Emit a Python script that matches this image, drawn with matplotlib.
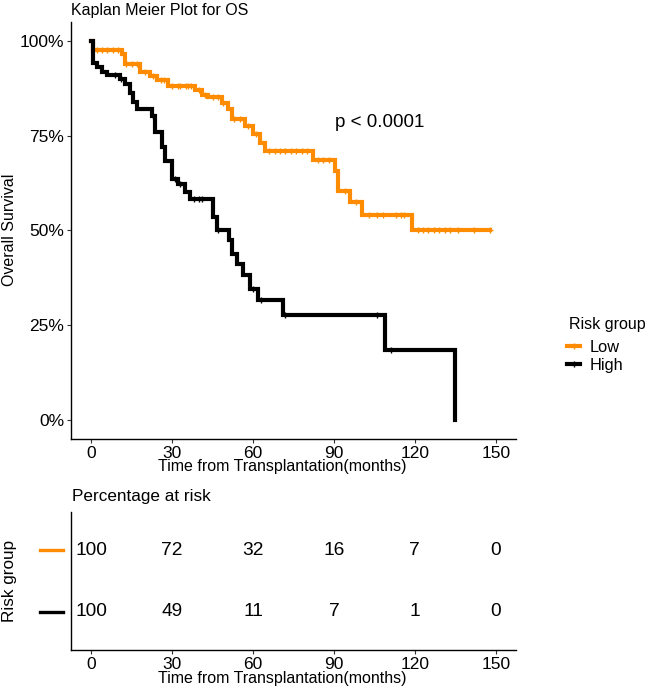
import numpy as np
import matplotlib
matplotlib.use("Agg")
import matplotlib.pyplot as plt
from matplotlib.lines import Line2D
import matplotlib.transforms as mtransforms

plt.rcParams['font.family'] = ['Liberation Sans', 'DejaVu Sans']

# Kaplan-Meier step points (time in months, survival fraction)
low_t = [0, 0.7, 11.4, 12.6, 18.1, 21.9, 24.3, 28.5, 38.5, 41.0, 43.3, 48.5, 50.7,
         52.2, 57.0, 60.0, 62.6, 64.4, 82.2, 90.4, 91.5, 95.9, 100.3, 119.1, 148.0]
low_s = [1.0, 0.976, 0.966, 0.939, 0.917, 0.908, 0.897, 0.882, 0.870, 0.858, 0.851, 0.836, 0.821,
         0.795, 0.776, 0.755, 0.732, 0.710, 0.687, 0.658, 0.605, 0.574, 0.542, 0.500, 0.500]
high_t = [0, 0.8, 2.1, 4.0, 5.8, 10.7, 12.6, 14.4, 15.6, 16.9, 22.5, 23.7, 26.2, 27.4,
          29.9, 32.3, 34.8, 36.7, 45.3, 46.6, 50.9, 52.1, 54.0, 56.4, 58.9, 62.0,
          71.2, 108.9, 134.8]
high_s = [1.0, 0.943, 0.930, 0.917, 0.911, 0.899, 0.886, 0.864, 0.838, 0.820, 0.803, 0.759, 0.719, 0.684,
          0.636, 0.623, 0.601, 0.582, 0.535, 0.500, 0.474, 0.439, 0.412, 0.382, 0.347, 0.316,
          0.276, 0.184, 0.0]

# censoring times
low_cens = [2, 4, 6, 8, 10, 13, 15, 17, 20, 23, 26, 27, 30, 32, 33, 35, 36, 37, 40, 42,
            45, 47, 49, 53, 55, 58, 61, 66, 68, 70, 72, 74, 76, 78, 80, 84, 86, 88, 94,
            98, 103, 106, 108, 113, 115, 116, 121, 123, 125, 127, 129, 131, 133, 136, 142, 148]
high_cens = [9, 11, 23, 31, 33, 38, 40, 41, 47, 60, 63, 72, 106, 111]

# percentage at risk table
table_times = [0, 30, 60, 90, 120, 150]
low_risk = [100, 72, 32, 16, 7, 0]
high_risk = [100, 49, 11, 7, 1, 0]

groups = ["Low", "High"]
colors = ["#FF8C00", "#000000"]


def surv_at(ts, ss, t):
    idx = np.searchsorted(np.array(ts), t, side='right') - 1
    return np.array(ss)[idx]


fig = plt.figure(figsize=(6.53, 6.92), dpi=100)
W, H = 653, 692
ax = fig.add_axes([71 / W, 1 - 439 / H, 445 / W, 417 / H])

for t, s, c, col in [(low_t, low_s, low_cens, colors[0]), (high_t, high_s, high_cens, colors[1])]:
    ax.step(t, s, where='post', color=col, lw=3.0, solid_joinstyle='miter')
    ax.plot(c, surv_at(t, s, c), ls='none', marker='+', ms=5, mew=1, color=col)

ax.set_xlim(-7.5, 157.5)
ax.set_ylim(-0.05, 1.05)
ax.set_xticks([0, 30, 60, 90, 120, 150])
ax.set_yticks([0, 0.25, 0.5, 0.75, 1.0])
ax.set_yticklabels(["0%", "25%", "50%", "75%", "100%"])
for sp in ["top", "right"]:
    ax.spines[sp].set_visible(False)
for sp in ["left", "bottom"]:
    ax.spines[sp].set_linewidth(1.0)
ax.tick_params(labelsize=12.5, length=3, width=0.8, pad=2, colors='#333333', labelcolor='black')
ax.text(107, 0.785, "p < 0.0001", fontsize=13.5, ha='center', va='center')

fig.text(71 / W, 1 - 10 / H, "Kaplan Meier Plot for OS", fontsize=11.5, ha='left', va='center')
fig.text(282 / W, 1 - 467 / H, "Time from Transplantation(months)", fontsize=11.5, ha='center', va='center')
fig.text(10 / W, 1 - 230 / H, "Overall Survival", fontsize=11.5, rotation=90, ha='center', va='center')

# legend
fig.text(569 / W, 1 - 324 / H, "Risk group", fontsize=11.5, ha='left', va='center')
handles = [Line2D([], [], color=colors[0], lw=3.0, marker='+', ms=5, mew=1),
           Line2D([], [], color=colors[1], lw=3.0, marker='+', ms=5, mew=1)]
leg = fig.legend(handles, groups, loc='upper left',
                 bbox_to_anchor=(567 / W, 1 - 340 / H), frameon=False, fontsize=11.8,
                 handlelength=0.8, handletextpad=0.6, labelspacing=0.18,
                 borderpad=0, borderaxespad=0)

# risk table
ax2 = fig.add_axes([71 / W, 1 - 650 / H, 445 / W, 138 / H])
ax2.set_xlim(-7.5, 157.5)
ax2.set_ylim(-0.613, 1.613)
for x, lv, hv in zip(table_times, low_risk, high_risk):
    ax2.text(x, 1, str(lv), fontsize=13.8, ha='center', va='center')
    ax2.text(x, 0, str(hv), fontsize=13.8, ha='center', va='center')
ax2.set_xticks(table_times)
ax2.set_yticks([])
for sp in ["top", "right"]:
    ax2.spines[sp].set_visible(False)
for sp in ["left", "bottom"]:
    ax2.spines[sp].set_linewidth(1.0)
ax2.tick_params(labelsize=12.5, length=3, width=0.8, pad=2, colors='#333333', labelcolor='black')
trans = mtransforms.blended_transform_factory(ax2.transAxes, ax2.transData)
for yv, col in [(1, colors[0]), (0, colors[1])]:
    ax2.plot([-0.0697, -0.018], [yv, yv], color=col, lw=2.4, transform=trans, clip_on=False)

fig.text(72 / W, 1 - 497 / H, "Percentage at risk", fontsize=12.3, ha='left', va='center')
fig.text(282 / W, 1 - 679 / H, "Time from Transplantation(months)", fontsize=11.5, ha='center', va='center')
fig.text(10 / W, 1 - 581 / H, "Risk group", fontsize=12.3, rotation=90, ha='center', va='center')

fig.savefig("out.png", dpi=100)
